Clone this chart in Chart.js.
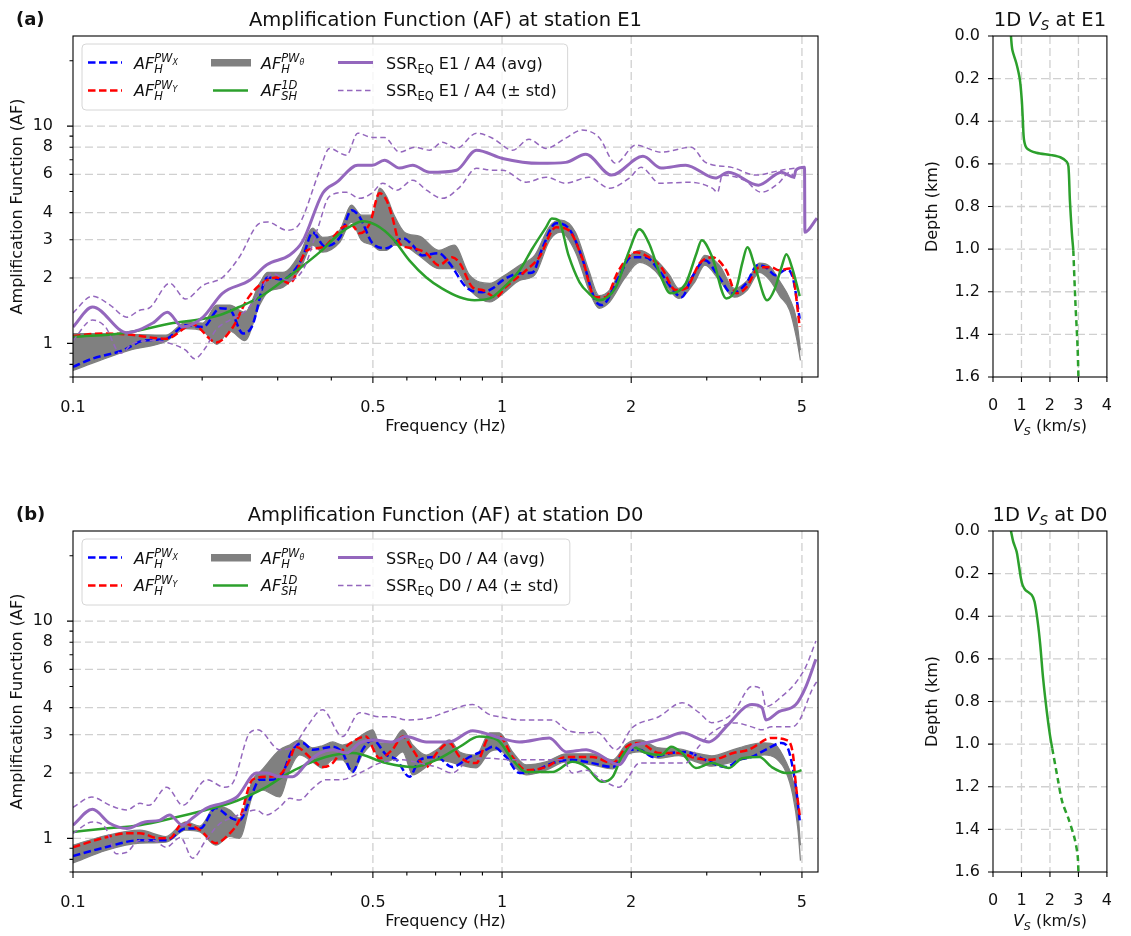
<!DOCTYPE html>
<html>
<head>
<meta charset="utf-8">
<title>Amplification Function</title>
<script src="https://cdn.jsdelivr.net/npm/chart.js@4.4.1/dist/chart.umd.min.js"></script>
<style>
  html, body { margin: 0; padding: 0; background: #fff; width: 1131px; height: 936px; overflow: hidden; }
  canvas { position: absolute; }
</style>
</head>
<body>
<canvas id="af-e1" width="850" height="441" style="left:0px;top:0px"></canvas>
<canvas id="vs-e1" width="251" height="441" style="left:880px;top:0px"></canvas>
<canvas id="af-d0" width="850" height="441" style="left:0px;top:495px"></canvas>
<canvas id="vs-d0" width="251" height="441" style="left:880px;top:495px"></canvas>
<script>
// 📈 AF curves (log-log) + 1D Vs profiles for stations E1 and D0

// axes
const freqTicks = [0.1, 0.5, 1, 2, 5];
const freqMinor = [0.2, 0.3, 0.4, 0.6, 0.7, 0.8, 0.9, 3, 4];
const afTicks = [1, 2, 3, 4, 6, 8, 10];
const afLong = [1, 10];
const afMinor = [0.7, 0.8, 0.9, 5, 7, 9, 20];
const vsTicks = [0, 1, 2, 3, 4];
const depthTicks = [0, 0.2, 0.4, 0.6, 0.8, 1.0, 1.2, 1.4, 1.6];

// ---- station E1 : [freq (Hz), AF]
const e1SsrAvg = [[0.1,1.19],[0.111,1.47],[0.1335,1.12],[0.1535,1.24],[0.166,1.39],[0.18,1.19],[0.201,1.32],[0.223,1.7],[0.258,1.95],[0.283,2.3],[0.32,2.55],[0.343,2.95],[0.382,4.91],[0.412,5.52],[0.461,6.61],[0.499,6.61],[0.532,6.97],[0.577,6.41],[0.619,6.61],[0.678,6.13],[0.783,6.27],[0.872,7.75],[1.003,7.1],[1.221,6.74],[1.407,6.81],[1.567,7.42],[1.8,5.95],[2.13,7.26],[2.35,6.41],[2.68,6.61],[3.14,5.77],[3.37,6.13],[3.96,5.35],[4.48,6.13],[4.79,5.82],[4.84,6.27],[5.07,6.46],[5.08,3.25],[5.42,3.77]];
const e1SsrHi = [[0.1,1.38],[0.111,1.65],[0.122,1.5],[0.1335,1.32],[0.143,1.42],[0.151,1.46],[0.168,1.89],[0.183,1.6],[0.201,1.85],[0.223,2.01],[0.244,2.49],[0.272,3.57],[0.284,3.62],[0.315,3.32],[0.337,3.55],[0.376,6.27],[0.396,7.9],[0.434,7.35],[0.461,9.28],[0.499,8.87],[0.532,8.87],[0.577,7.59],[0.626,8.0],[0.678,7.75],[0.726,8.43],[0.783,7.9],[0.872,9.28],[0.95,8.8],[1.058,7.75],[1.156,8.7],[1.266,7.9],[1.407,8.8],[1.535,9.59],[1.683,8.87],[1.84,6.74],[2.05,8.18],[2.35,7.59],[2.76,8.0],[2.98,6.81],[3.43,6.46],[3.9,5.95],[4.48,6.27],[4.84,6.41]];
const e1SsrLo = [[0.1,1.03],[0.111,1.28],[0.119,1.19],[0.129,0.9],[0.138,1.0],[0.1535,1.03],[0.168,1.0],[0.183,0.93],[0.192,0.85],[0.204,0.96],[0.215,1.15],[0.232,1.28],[0.249,1.38],[0.262,1.53],[0.275,1.79],[0.292,2.1],[0.317,1.95],[0.345,2.21],[0.372,3.39],[0.396,4.75],[0.434,4.96],[0.466,4.65],[0.497,4.91],[0.527,5.46],[0.568,5.07],[0.619,5.64],[0.667,5.07],[0.726,4.65],[0.797,5.24],[0.872,6.4],[0.95,6.27],[1.003,6.27],[1.138,5.52],[1.266,5.82],[1.407,5.46],[1.593,5.82],[1.781,5.18],[1.98,5.77],[2.11,6.46],[2.33,5.46],[2.74,5.52],[3.09,5.18],[3.18,4.96],[3.26,5.95],[3.67,5.64],[4.02,4.96],[4.41,5.46],[4.68,6.13],[4.84,5.64]];
const e1Sh1d = [[0.1,1.07],[0.1335,1.12],[0.171,1.24],[0.198,1.29],[0.22,1.35],[0.244,1.47],[0.272,1.63],[0.303,1.89],[0.337,2.21],[0.376,2.63],[0.419,3.21],[0.448,3.5],[0.473,3.65],[0.509,3.5],[0.555,3.05],[0.608,2.41],[0.666,2.01],[0.724,1.79],[0.797,1.63],[0.863,1.58],[0.936,1.61],[1.003,1.79],[1.099,2.17],[1.178,2.74],[1.266,3.42],[1.306,3.76],[1.355,3.69],[1.429,2.54],[1.516,1.91],[1.593,1.7],[1.683,1.58],[1.84,1.81],[1.98,2.68],[2.09,3.35],[2.2,2.89],[2.35,2.01],[2.47,1.7],[2.68,1.89],[2.84,2.6],[2.92,2.98],[3.09,2.49],[3.33,1.61],[3.52,1.81],[3.63,2.34],[3.73,2.77],[3.89,2.24],[4.15,1.58],[4.31,1.76],[4.48,2.24],[4.6,2.57],[4.74,2.24],[4.94,1.65]];
const e1PwX = [[0.1,0.78],[0.111,0.85],[0.131,0.93],[0.146,1.03],[0.165,1.05],[0.183,1.21],[0.201,1.19],[0.22,1.45],[0.232,1.43],[0.249,1.11],[0.261,1.19],[0.284,2.01],[0.308,1.97],[0.325,2.12],[0.343,2.49],[0.362,3.24],[0.386,2.8],[0.419,3.08],[0.446,4.1],[0.466,3.81],[0.499,2.89],[0.538,2.74],[0.587,3.05],[0.619,2.83],[0.651,2.54],[0.712,2.6],[0.754,2.34],[0.826,1.81],[0.9,1.72],[0.95,1.79],[1.003,1.95],[1.099,2.1],[1.178,2.12],[1.241,2.74],[1.336,3.57],[1.429,3.39],[1.535,2.49],[1.648,1.58],[1.708,1.5],[1.87,2.01],[2.0,2.49],[2.16,2.49],[2.32,2.17],[2.54,1.7],[2.62,1.63],[2.77,2.01],[2.97,2.41],[3.21,2.01],[3.43,1.7],[3.71,1.89],[3.94,2.29],[4.12,2.24],[4.34,2.06],[4.6,2.19],[4.76,2.01],[4.94,1.3]];
const e1PwY = [[0.1,1.08],[0.117,1.11],[0.1335,1.1],[0.165,1.05],[0.19,1.22],[0.216,1.01],[0.236,1.19],[0.254,1.58],[0.272,1.85],[0.298,2.01],[0.32,1.89],[0.351,2.68],[0.382,2.77],[0.425,3.42],[0.446,3.5],[0.466,3.21],[0.492,3.57],[0.518,4.91],[0.538,4.56],[0.555,3.81],[0.577,2.89],[0.619,2.74],[0.666,2.6],[0.712,2.29],[0.765,2.49],[0.797,2.34],[0.854,1.81],[0.9,1.76],[0.967,1.63],[1.018,1.81],[1.138,2.17],[1.221,2.49],[1.336,3.42],[1.429,3.32],[1.535,2.49],[1.648,1.63],[1.74,1.63],[1.87,2.17],[2.05,2.63],[2.2,2.49],[2.35,2.24],[2.54,1.76],[2.68,1.79],[2.89,2.34],[3.09,2.49],[3.33,2.17],[3.52,1.7],[3.71,1.81],[3.98,2.24],[4.25,2.24],[4.41,2.17],[4.68,2.21],[4.76,2.1],[4.94,1.19]];
const e1ThetaHi = [[0.1,1.11],[0.1156,1.11],[0.1357,1.1],[0.1646,1.09],[0.1832,1.25],[0.2007,1.24],[0.2163,1.5],[0.2319,1.5],[0.2514,1.39],[0.2722,1.89],[0.2842,2.12],[0.3082,2.12],[0.3374,2.57],[0.3616,3.39],[0.3815,3.08],[0.4185,3.32],[0.4455,4.33],[0.4702,3.89],[0.4993,3.89],[0.5182,5.18],[0.5378,4.75],[0.5605,3.89],[0.5922,3.25],[0.6434,3.11],[0.7123,2.68],[0.7731,2.83],[0.8402,2.06],[0.9357,1.89],[1.014,2.06],[1.099,2.29],[1.191,2.54],[1.291,3.46],[1.369,3.69],[1.483,3.25],[1.593,2.17],[1.683,1.66],[1.781,1.76],[1.93,2.36],[2.092,2.68],[2.267,2.46],[2.457,2.06],[2.58,1.79],[2.81,2.12],[2.97,2.54],[3.21,2.29],[3.48,1.79],[3.73,1.95],[3.98,2.34],[4.21,2.26],[4.44,1.93],[4.68,1.61],[4.86,1.28],[4.96,0.93]];
const e1ThetaLo = [[0.1,0.75],[0.1156,0.835],[0.1357,0.93],[0.1646,1.02],[0.1832,1.17],[0.2007,1.14],[0.2163,0.99],[0.2319,1.14],[0.2514,1.03],[0.2722,1.5],[0.2842,1.72],[0.3082,1.81],[0.3374,2.17],[0.3616,2.83],[0.3815,2.63],[0.4185,2.92],[0.4455,3.61],[0.4702,2.98],[0.4993,2.83],[0.5182,2.68],[0.5378,2.68],[0.5605,2.83],[0.5922,2.8],[0.6434,2.52],[0.7123,2.21],[0.7731,2.21],[0.8402,1.76],[0.9357,1.55],[1.014,1.72],[1.099,1.95],[1.191,2.06],[1.291,2.98],[1.369,3.25],[1.483,2.63],[1.593,1.76],[1.683,1.45],[1.781,1.55],[1.93,1.99],[2.092,2.36],[2.267,2.17],[2.457,1.76],[2.58,1.61],[2.81,1.91],[2.97,2.29],[3.21,1.95],[3.48,1.63],[3.73,1.76],[3.98,2.12],[4.21,1.95],[4.44,1.65],[4.68,1.42],[4.86,1.05],[4.96,0.835]];

// ---- station D0 : [freq (Hz), AF]
const d0SsrAvg = [[0.1,1.15],[0.111,1.36],[0.122,1.17],[0.1335,1.11],[0.147,1.19],[0.159,1.21],[0.168,1.28],[0.18,1.15],[0.19,1.24],[0.205,1.38],[0.223,1.45],[0.241,1.55],[0.268,2.0],[0.283,2.0],[0.303,1.92],[0.325,1.92],[0.351,2.22],[0.376,2.47],[0.403,2.56],[0.434,2.47],[0.466,2.75],[0.499,2.84],[0.555,2.78],[0.598,2.94],[0.666,2.78],[0.754,2.78],[0.854,3.13],[0.936,3.0],[0.986,2.9],[1.097,2.78],[1.289,2.9],[1.411,2.5],[1.571,2.56],[1.658,2.47],[1.875,2.18],[2.01,2.64],[2.167,2.75],[2.412,2.9],[2.628,3.06],[3.037,2.78],[3.153,2.9],[3.327,3.26],[3.824,4.13],[4.035,4.0],[4.122,3.51],[4.418,3.83],[4.84,4.13],[5.108,5.0],[5.388,6.67]];
const d0SsrHi = [[0.1,1.39],[0.1107,1.55],[0.1219,1.42],[0.1335,1.35],[0.1432,1.45],[0.1503,1.42],[0.1654,1.72],[0.1802,1.42],[0.2052,1.86],[0.2254,1.72],[0.2358,1.8],[0.2582,3.06],[0.2696,3.16],[0.3034,2.56],[0.3251,2.64],[0.3506,3.26],[0.3815,3.91],[0.4245,2.94],[0.4655,3.79],[0.5182,3.63],[0.5547,3.63],[0.5978,3.51],[0.678,3.59],[0.742,3.83],[0.854,4.13],[0.936,3.71],[0.986,3.63],[1.097,3.51],[1.31,3.51],[1.411,3.16],[1.571,3.06],[1.658,3.09],[1.845,2.56],[2.01,3.23],[2.32,3.63],[2.628,4.21],[2.88,3.79],[3.08,3.41],[3.46,3.79],[3.82,5.0],[4.03,4.84],[4.12,4.04],[4.48,4.49],[4.84,5.22],[5.11,6.19],[5.39,8.1]];
const d0SsrLo = [[0.1,1.055],[0.111,1.19],[0.119,1.12],[0.126,0.85],[0.133,0.86],[0.143,0.98],[0.1535,0.98],[0.165,0.91],[0.178,1.01],[0.19,0.81],[0.204,0.98],[0.22,1.17],[0.236,1.25],[0.253,1.32],[0.267,1.35],[0.282,1.28],[0.303,1.39],[0.32,1.53],[0.337,1.5],[0.362,1.7],[0.388,1.86],[0.419,1.86],[0.466,2.0],[0.518,2.22],[0.587,2.3],[0.643,2.22],[0.704,2.13],[0.765,2.0],[0.84,2.3],[0.919,2.34],[1.058,2.3],[1.202,2.3],[1.385,2.3],[1.458,2.0],[1.571,2.06],[1.708,1.86],[1.875,1.72],[1.95,1.86],[2.092,2.22],[2.246,2.22],[2.68,2.22],[2.87,2.64],[3.08,3.06],[3.5,3.4],[3.82,3.26],[4.03,3.16],[4.25,3.26],[4.74,3.26],[4.94,3.51],[5.28,4.84],[5.45,5.38]];
const d0Sh1d = [[0.1,1.07],[0.119,1.11],[0.143,1.15],[0.171,1.24],[0.204,1.35],[0.232,1.45],[0.253,1.55],[0.282,1.72],[0.313,1.96],[0.348,2.18],[0.388,2.37],[0.448,2.47],[0.538,2.22],[0.619,2.13],[0.704,2.3],[0.797,2.64],[0.884,2.94],[0.975,2.84],[1.058,2.3],[1.138,2.02],[1.31,2.02],[1.458,2.25],[1.571,2.13],[1.708,1.82],[1.811,1.92],[1.9,2.37],[2.01,2.64],[2.167,2.47],[2.35,2.42],[2.478,2.64],[2.628,2.47],[2.83,2.11],[3.08,2.22],[3.38,2.11],[3.63,2.34],[3.98,2.37],[4.25,2.13],[4.59,2.0],[4.84,2.02],[4.99,2.06]];
const d0PwX = [[0.1,0.83],[0.119,0.91],[0.143,0.98],[0.165,0.98],[0.183,1.11],[0.198,1.11],[0.215,1.38],[0.232,1.25],[0.244,1.21],[0.262,1.62],[0.272,1.86],[0.287,1.86],[0.303,1.9],[0.325,2.56],[0.343,2.75],[0.362,2.56],[0.403,2.64],[0.425,2.47],[0.448,2.02],[0.473,2.56],[0.499,2.84],[0.538,2.42],[0.568,2.3],[0.608,1.92],[0.643,2.3],[0.704,2.37],[0.765,2.13],[0.84,2.37],[0.919,2.56],[0.95,2.64],[1.022,2.37],[1.097,2.0],[1.202,2.06],[1.31,2.22],[1.458,2.3],[1.621,2.22],[1.811,2.13],[1.95,2.56],[2.092,2.56],[2.246,2.37],[2.478,2.47],[2.68,2.5],[2.97,2.3],[3.327,2.13],[3.57,2.3],[3.82,2.37],[4.12,2.56],[4.48,2.75],[4.65,2.56],[4.84,1.72],[4.94,1.21]];
const d0PwY = [[0.1,0.91],[0.119,1.01],[0.133,1.055],[0.143,1.055],[0.159,1.0],[0.168,1.0],[0.18,1.17],[0.198,1.09],[0.215,0.95],[0.232,1.055],[0.244,1.21],[0.262,1.86],[0.282,1.92],[0.303,1.96],[0.32,2.3],[0.33,2.64],[0.362,2.3],[0.382,2.13],[0.403,2.22],[0.419,2.47],[0.448,2.78],[0.481,2.94],[0.518,2.34],[0.555,2.56],[0.587,2.94],[0.619,2.56],[0.666,2.13],[0.704,2.47],[0.754,2.75],[0.797,2.37],[0.87,2.22],[0.936,2.94],[0.986,2.94],[1.058,2.37],[1.138,2.06],[1.266,2.13],[1.411,2.37],[1.621,2.37],[1.811,2.22],[1.95,2.64],[2.092,2.75],[2.32,2.47],[2.58,2.47],[2.83,2.34],[3.08,2.3],[3.46,2.47],[3.76,2.56],[4.25,2.9],[4.59,2.84],[4.76,2.47],[4.84,1.76],[4.94,1.28]];
const d0ThetaHi = [[0.1,0.93],[0.1193,1.03],[0.1432,1.09],[0.1646,1.02],[0.1832,1.19],[0.1976,1.14],[0.2152,1.41],[0.2319,1.35],[0.2443,1.24],[0.2624,1.86],[0.2752,2.06],[0.3034,2.56],[0.3198,2.69],[0.3374,2.84],[0.3616,2.61],[0.3815,2.67],[0.4033,2.78],[0.4245,2.69],[0.4483,2.78],[0.4727,3.0],[0.4993,3.16],[0.5182,2.75],[0.5547,2.78],[0.5868,3.16],[0.6191,2.69],[0.6655,2.42],[0.7038,2.56],[0.7544,2.84],[0.7966,2.5],[0.87,2.42],[0.9357,3.06],[0.9856,3.06],[1.058,2.5],[1.138,2.18],[1.266,2.25],[1.411,2.45],[1.621,2.45],[1.811,2.3],[1.95,2.72],[2.092,2.84],[2.32,2.61],[2.58,2.58],[2.83,2.47],[3.08,2.4],[3.46,2.56],[3.76,2.69],[4.08,2.75],[4.34,2.69],[4.59,2.25],[4.76,1.86],[4.89,1.35],[4.96,0.93]];
const d0ThetaLo = [[0.1,0.77],[0.1193,0.88],[0.1432,0.95],[0.1646,0.96],[0.1832,1.09],[0.1976,1.07],[0.2152,0.93],[0.2319,1.02],[0.2443,1.0],[0.2624,1.58],[0.2752,1.67],[0.3034,1.55],[0.3198,2.06],[0.3374,2.42],[0.3616,2.25],[0.3815,2.11],[0.4033,2.3],[0.4245,2.3],[0.4483,2.02],[0.4727,2.42],[0.4993,2.69],[0.5182,2.25],[0.5547,2.3],[0.5868,2.5],[0.6191,1.96],[0.6655,2.13],[0.7038,2.3],[0.7544,2.25],[0.7966,2.18],[0.87,2.11],[0.9357,2.5],[0.9856,2.56],[1.058,2.18],[1.138,1.96],[1.266,2.06],[1.411,2.25],[1.621,2.18],[1.811,2.09],[1.95,2.42],[2.092,2.5],[2.32,2.34],[2.58,2.4],[2.83,2.25],[3.08,2.15],[3.46,2.25],[3.76,2.34],[4.08,2.42],[4.34,2.34],[4.59,2.02],[4.76,1.58],[4.89,1.11],[4.96,0.79]];

// ---- 1D Vs profiles : [Vs (km/s), depth (km)]
const e1VsModel = [[0.63,0.0],[0.68,0.066],[0.82,0.128],[0.94,0.202],[1.01,0.3],[1.05,0.4],[1.09,0.488],[1.19,0.527],[1.52,0.548],[2.05,0.559],[2.38,0.57],[2.59,0.59],[2.65,0.613],[2.7,0.77],[2.77,0.926],[2.82,1.005]];
const e1VsDeep = [[2.82,1.005],[2.89,1.24],[2.97,1.46],[3.0,1.6]];
const d0VsModel = [[0.63,0.0],[0.71,0.05],[0.83,0.097],[0.89,0.144],[0.98,0.222],[1.04,0.254],[1.14,0.277],[1.36,0.3],[1.46,0.332],[1.57,0.426],[1.66,0.535],[1.76,0.692],[1.89,0.848],[2.0,0.958],[2.08,1.02]];
const d0VsDeep = [[2.08,1.02],[2.27,1.16],[2.43,1.27],[2.65,1.35],[2.86,1.44],[2.97,1.52],[3.0,1.6]];

const FONT = "'DejaVu Sans', 'Liberation Sans', sans-serif";
const INK = '#111';
const PURPLE = '#9467bd', GREEN = '#2ca02c', GRAY = '#808080', BLUE = '#0000ff', RED = '#ff0000';

Chart.defaults.font.family = FONT;

const pts = arr => arr.map(([x, y]) => ({ x, y }));

function serie(data, color, width, dash, order) {
  return {
    data: pts(data), borderColor: color, backgroundColor: color, borderWidth: width,
    borderDash: dash, pointRadius: 0, fill: false, order,
    cubicInterpolationMode: 'monotone'
  };
}

// mixed text runs: [text, size, italic, dy, flag]  (flag 'mark' saves x, 'back' returns to it)
function runs(ctx, parts, x, y, align, dry) {
  let cx = 0, saved = 0, w = 0;
  const placed = parts.map(([t, size, it, dy = 0, flag]) => {
    const font = (it ? 'italic ' : '') + size + 'px ' + FONT;
    ctx.font = font;
    if (flag === 'back') cx = saved;
    if (flag === 'mark') saved = cx;
    const p = { t, font, x: cx, dy };
    cx += ctx.measureText(t).width;
    w = Math.max(w, cx);
    return p;
  });
  if (dry) return w;
  const x0 = align === 'center' ? x - w / 2 : x;
  placed.forEach(p => { ctx.font = p.font; ctx.fillText(p.t, x0 + p.x, y + p.dy); });
  return w;
}

const afLabel = (sub, sup, supSub) => {
  const p = [['AF', 16, 1, 0], [sup, 11.5, 1, -7, 'mark']];
  if (supSub) p.push([supSub, 8, 1, -4.5]);
  p.push([sub, 11.5, 1, 3.5, 'back']);
  return p;
};
const ssrLabel = (st, tail) => [['SSR', 16, 0, 0], ['EQ', 11.5, 0, 3.5], [' ' + st + ' / A4 ' + tail, 16, 0, 0]];

function drawLegend(ctx, a, items) {
  const textX = [61, 188, 313];
  const handleY = [26.5, 54.5], textY = [33, 60];
  const w3 = Math.max(...items.filter(e => e.col === 2).map(e => runs(ctx, e.label, 0, 0, 'left', true)));
  const bx = a.left + 9, by = a.top + 8, bw = textX[2] + w3 + 11 - 9, bh = 66, r = 4;
  ctx.beginPath();
  ctx.moveTo(bx + r, by);
  ctx.arcTo(bx + bw, by, bx + bw, by + bh, r);
  ctx.arcTo(bx + bw, by + bh, bx, by + bh, r);
  ctx.arcTo(bx, by + bh, bx, by, r);
  ctx.arcTo(bx, by, bx + bw, by, r);
  ctx.closePath();
  ctx.fillStyle = 'rgba(255,255,255,0.8)';
  ctx.fill();
  ctx.strokeStyle = '#d6d6d6';
  ctx.lineWidth = 1;
  ctx.setLineDash([]);
  ctx.stroke();
  items.forEach(e => {
    const cy = a.top + handleY[e.row];
    if (e.bar) {
      ctx.fillStyle = e.color;
      ctx.fillRect(a.left + e.hx[0], cy - 3.5, e.hx[1] - e.hx[0], 7.5);
    } else {
      ctx.strokeStyle = e.color;
      ctx.lineWidth = e.width;
      ctx.setLineDash(e.dash);
      ctx.beginPath();
      ctx.moveTo(a.left + e.hx[0], cy);
      ctx.lineTo(a.left + e.hx[1], cy);
      ctx.stroke();
    }
    ctx.setLineDash([]);
    ctx.fillStyle = INK;
    runs(ctx, e.label, a.left + textX[e.col], a.top + textY[e.row], 'left');
  });
}

function framePlugin(p) {
  return {
    id: 'frame',
    beforeDatasetsDraw(chart) {
      const { ctx, chartArea: a, scales: { x, y } } = chart;
      ctx.save();
      ctx.strokeStyle = '#d0d0d0';
      ctx.lineWidth = 1.3;
      ctx.setLineDash([8, 4]);
      ctx.beginPath();
      p.gridX.forEach(v => { const px = x.getPixelForValue(v); ctx.moveTo(px, a.top); ctx.lineTo(px, a.bottom); });
      p.gridY.forEach(v => { const py = y.getPixelForValue(v); ctx.moveTo(a.left, py); ctx.lineTo(a.right, py); });
      ctx.stroke();
      ctx.restore();
    },
    afterDatasetsDraw(chart) {
      const { ctx, chartArea: a, scales: { x, y } } = chart;
      ctx.save();
      ctx.setLineDash([]);
      ctx.strokeStyle = '#000';
      ctx.lineWidth = 1.1;
      ctx.strokeRect(a.left, a.top, a.right - a.left, a.bottom - a.top);
      ctx.beginPath();
      p.ticksX.forEach(([v, len]) => { const px = x.getPixelForValue(v); ctx.moveTo(px, a.bottom); ctx.lineTo(px, a.bottom + len); });
      p.ticksY.forEach(([v, len]) => { const py = y.getPixelForValue(v); ctx.moveTo(a.left, py); ctx.lineTo(a.left - len, py); });
      ctx.stroke();
      if (p.legend) drawLegend(ctx, a, p.legend);
      ctx.restore();
    },
    afterDraw(chart) {
      const { ctx, chartArea: a } = chart;
      const cx = (a.left + a.right) / 2;
      ctx.save();
      ctx.fillStyle = INK;
      ctx.textBaseline = 'alphabetic';
      runs(ctx, p.title, cx, 26, 'center');
      runs(ctx, p.xTitle, cx, a.bottom + 54, 'center');
      if (p.tag) {
        ctx.font = 'bold 18px ' + FONT;
        ctx.fillText(p.tag, 16, 25);
      }
      ctx.translate(p.yTitleX, (a.top + a.bottom) / 2);
      ctx.rotate(-Math.PI / 2);
      runs(ctx, p.yTitle, 0, 0, 'center');
      ctx.restore();
    }
  };
}

function axis(type, min, max, values, fmt, pad, size, extra) {
  return Object.assign({
    type, min, max, bounds: 'data',
    grid: { display: false, drawTicks: false },
    border: { display: false },
    afterBuildTicks: s => { s.ticks = values.map(value => ({ value })); },
    afterFit: s => { if (s.isHorizontal()) s.height = size; else s.width = size; },
    ticks: {
      autoSkip: false, maxRotation: 0, minRotation: 0, padding: pad, color: INK,
      font: { family: FONT, size: 16 }, callback: fmt
    }
  }, extra || {});
}

const baseOptions = (scales, padRight) => ({
  responsive: false,
  animation: false,
  devicePixelRatio: 1,
  events: [],
  layout: { padding: { top: 36, left: 0, right: padRight, bottom: 4 } },
  plugins: { legend: { display: false }, tooltip: { enabled: false } },
  scales
});

function afChart(id, st, tag, d) {
  const datasets = [
    serie(d.avg, PURPLE, 3, [], 1),
    serie(d.hi, PURPLE, 1.5, [5.5, 3.5], 2),
    serie(d.lo, PURPLE, 1.5, [5.5, 3.5], 3),
    serie(d.sh, GREEN, 2.5, [], 4),
    serie(d.pwy, RED, 2.5, [7.5, 3.5], 5),
    serie(d.pwx, BLUE, 2.5, [7.5, 3.5], 6),
    Object.assign(serie(d.thHi, GRAY, 1.2, [], 7), { fill: '+1' }),
    serie(d.thLo, GRAY, 1.2, [], 8)
  ];
  const legend = [
    { col: 0, row: 0, color: BLUE, width: 2.5, dash: [7.5, 3.5], hx: [15, 49], label: afLabel('H', 'PW', 'X') },
    { col: 0, row: 1, color: RED, width: 2.5, dash: [7.5, 3.5], hx: [15, 49], label: afLabel('H', 'PW', 'Y') },
    { col: 1, row: 0, color: GRAY, bar: true, hx: [138, 178], label: afLabel('H', 'PW', 'θ') },
    { col: 1, row: 1, color: GREEN, width: 2.5, dash: [], hx: [140, 175], label: afLabel('SH', '1D') },
    { col: 2, row: 0, color: PURPLE, width: 3, dash: [], hx: [265, 300], label: ssrLabel(st, '(avg)') },
    { col: 2, row: 1, color: PURPLE, width: 1.5, dash: [5.5, 3.5], hx: [265, 300], label: ssrLabel(st, '(± std)') }
  ];
  new Chart(document.getElementById(id), {
    type: 'line',
    data: { datasets },
    options: baseOptions({
      x: axis('logarithmic', 0.1, 5.45, freqTicks, v => String(v), 21, 60),
      y: axis('logarithmic', 0.7, 26, afTicks, v => String(v), 20, 73)
    }, 32),
    plugins: [framePlugin({
      gridX: freqTicks.slice(1), gridY: afTicks,
      ticksX: freqTicks.map(v => [v, 6]).concat(freqMinor.map(v => [v, 3.5])),
      ticksY: afLong.map(v => [v, 6]).concat(afTicks.filter(v => !afLong.includes(v)).concat(afMinor).map(v => [v, 3.5])),
      legend,
      tag,
      title: [['Amplification Function (AF) at station ' + st, 19.5, 0, 0]],
      xTitle: [['Frequency (Hz)', 16, 0, 0]],
      yTitle: [['Amplification Function (AF)', 16, 0, 0]],
      yTitleX: 22
    })]
  });
}

function vsChart(id, st, model, deep) {
  new Chart(document.getElementById(id), {
    type: 'line',
    data: {
      datasets: [
        Object.assign(serie(model, GREEN, 2.5, [], 1), { tension: 0.3, cubicInterpolationMode: 'default' }),
        Object.assign(serie(deep, GREEN, 2.5, [6, 4], 2), { tension: 0.3, cubicInterpolationMode: 'default' })
      ]
    },
    options: baseOptions({
      x: axis('linear', 0, 4, vsTicks, v => String(v), 19, 60),
      y: axis('linear', 0, 1.6, depthTicks, v => v.toFixed(1), 13, 113, { reverse: true })
    }, 14),
    plugins: [framePlugin({
      gridX: [1, 2, 3], gridY: depthTicks.slice(1, -1),
      ticksX: vsTicks.map(v => [v, 5]),
      ticksY: depthTicks.map(v => [v, 5]),
      title: [['1D ', 19.5, 0, 0], ['V', 19.5, 1, 0], ['S', 13.5, 1, 4], [' at ' + st, 19.5, 0, 0]],
      xTitle: [['V', 16, 1, 0], ['S', 11, 1, 3.5], [' (km/s)', 16, 0, 0]],
      yTitle: [['Depth (km)', 16, 0, 0]],
      yTitleX: 57
    })]
  });
}

afChart('af-e1', 'E1', '(a)', {
  avg: e1SsrAvg, hi: e1SsrHi, lo: e1SsrLo, sh: e1Sh1d,
  pwx: e1PwX, pwy: e1PwY, thHi: e1ThetaHi, thLo: e1ThetaLo
});
vsChart('vs-e1', 'E1', e1VsModel, e1VsDeep);
afChart('af-d0', 'D0', '(b)', {
  avg: d0SsrAvg, hi: d0SsrHi, lo: d0SsrLo, sh: d0Sh1d,
  pwx: d0PwX, pwy: d0PwY, thHi: d0ThetaHi, thLo: d0ThetaLo
});
vsChart('vs-d0', 'D0', d0VsModel, d0VsDeep);
</script>
</body>
</html>
